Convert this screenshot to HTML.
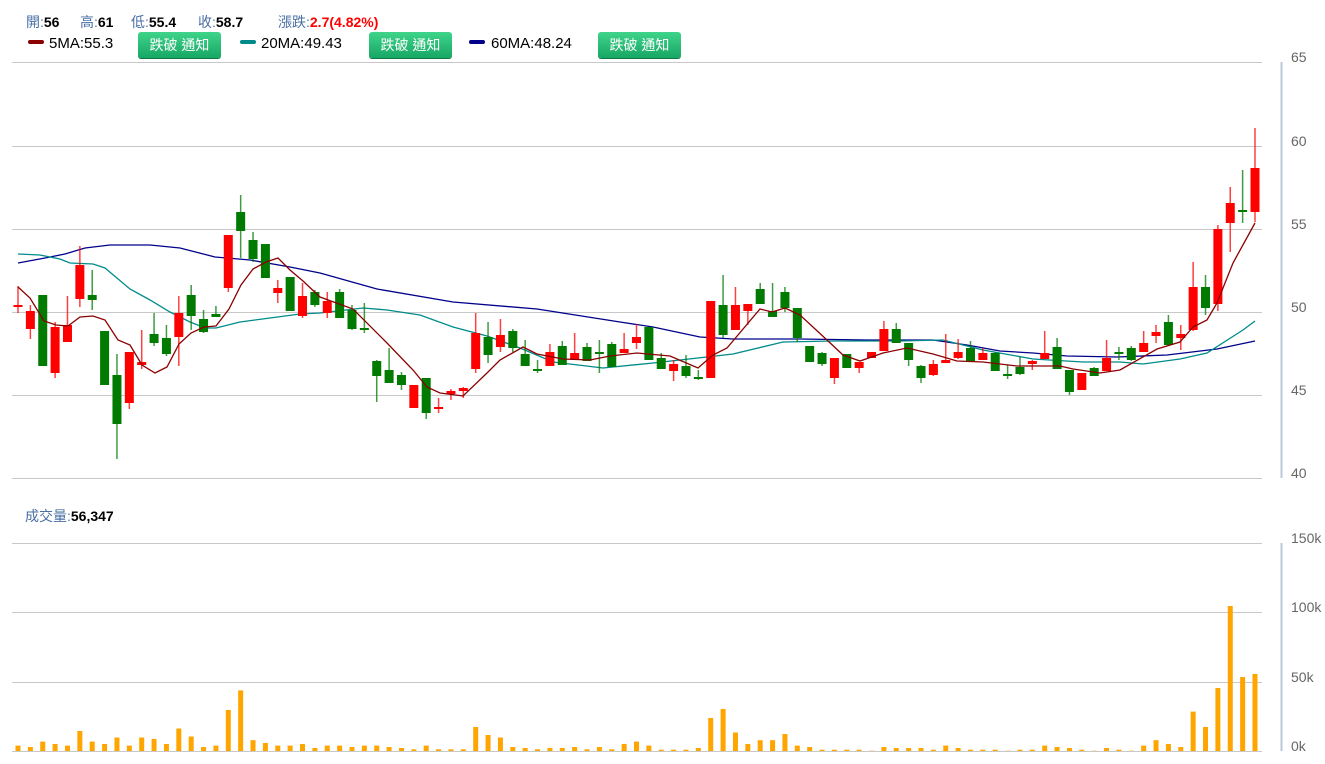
<!DOCTYPE html>
<html><head><meta charset="utf-8">
<style>
body{margin:0;background:#fff;width:1325px;height:764px;overflow:hidden;font-family:"Liberation Sans","Noto Sans CJK TC",sans-serif;}
.t{position:absolute;font-size:14px;color:#4a6fa5;white-space:nowrap}
.t b{color:#000}
.btn{position:absolute;top:32px;height:26px;width:83px;border-radius:3px;background:linear-gradient(#3fd48a,#17a765);color:#fff;font-size:14px;line-height:26px;text-align:center;box-shadow:0 1px 0 #0d7a46;}
.sw{position:absolute;top:40px;width:16px;height:4px;border-radius:2px}
.lg{position:absolute;top:35px;font-size:15px;color:#000}
</style></head><body>
<div class="t" style="left:26px;top:12px">開:<b>56</b></div>
<div class="t" style="left:80px;top:12px">高:<b>61</b></div>
<div class="t" style="left:131px;top:12px">低:<b>55.4</b></div>
<div class="t" style="left:198px;top:12px">收:<b>58.7</b></div>
<div class="t" style="left:278px;top:12px">漲跌:<b style="color:#f00">2.7(4.82%)</b></div>
<div class="sw" style="left:28px;background:#8b0000"></div><div class="lg" style="left:49px">5MA:55.3</div>
<div class="btn" style="left:138px">跌破 通知</div>
<div class="sw" style="left:240px;background:#008b8b"></div><div class="lg" style="left:261px">20MA:49.43</div>
<div class="btn" style="left:369px">跌破 通知</div>
<div class="sw" style="left:469px;background:#00008b"></div><div class="lg" style="left:491px">60MA:48.24</div>
<div class="btn" style="left:598px">跌破 通知</div>
<div class="t" style="left:25px;top:506px">成交量:<b>56,347</b></div>
<svg id="s" width="1325" height="764" style="position:absolute;left:0;top:0" xmlns="http://www.w3.org/2000/svg"></svg>
<script>
var C=[[305,307,286,313,'r'],[311,329,305,339,'r'],[295,366,295,366,'g'],[327,373,322,378,'r'],[325,342,296,342,'r'],[265,299,246,307,'r'],[295,300,270,310,'g'],[331,385,331,385,'g'],[375,424,354,459,'g'],[352,403,352,409,'r'],[362,365,330,369,'r'],[334,343,313,346,'g'],[338,354,325,356,'g'],[313,337,296,366,'r'],[295,316,285,330,'g'],[319,332,310,333,'g'],[314,317,306,317,'g'],[235,288,235,292,'r'],[212,231,195,258,'g'],[240,259,232,262,'g'],[244,278,244,278,'g'],[288,293,280,303,'r'],[277,311,277,311,'g'],[296,316,283,318,'r'],[292,305,290,307,'g'],[301,313,292,318,'r'],[292,318,289,318,'g'],[310,329,305,330,'g'],[328,330,303,333,'g'],[361,376,360,402,'g'],[370,383,348,383,'g'],[375,385,372,390,'g'],[385,408,385,408,'r'],[378,413,378,419,'g'],[407,409,398,413,'r'],[391,394,389,400,'r'],[388,391,387,398,'r'],[333,369,313,373,'r'],[337,355,322,363,'g'],[335,347,319,352,'r'],[331,348,329,352,'g'],[354,366,340,366,'g'],[369,371,360,373,'g'],[352,366,344,366,'r'],[346,365,341,365,'g'],[353,360,333,360,'r'],[347,361,343,361,'g'],[352,354,340,373,'g'],[344,367,342,367,'g'],[349,353,333,353,'r'],[337,343,324,349,'r'],[327,360,327,360,'g'],[358,369,353,369,'g'],[364,371,360,381,'r'],[366,376,355,378,'g'],[377,379,370,380,'g'],[301,378,301,378,'r'],[305,335,275,338,'g'],[305,330,287,330,'r'],[304,311,304,325,'r'],[289,304,283,304,'g'],[311,317,283,317,'g'],[292,308,287,312,'g'],[308,338,308,342,'g'],[346,362,346,362,'g'],[353,364,352,366,'g'],[358,378,358,384,'r'],[354,368,354,368,'g'],[362,368,362,373,'r'],[352,358,352,358,'r'],[329,351,321,351,'r'],[329,343,323,343,'g'],[343,360,343,366,'g'],[366,378,365,383,'g'],[364,375,360,376,'r'],[360,363,334,363,'r'],[352,358,339,359,'r'],[348,362,341,362,'g'],[353,360,348,360,'r'],[353,371,352,371,'g'],[374,376,365,379,'g'],[367,374,357,375,'g'],[361,364,360,370,'r'],[353,359,331,359,'r'],[347,369,338,369,'g'],[370,392,370,395,'g'],[373,390,373,390,'r'],[368,376,367,376,'g'],[358,371,340,371,'r'],[352,354,347,360,'g'],[348,360,346,361,'g'],[343,352,331,352,'r'],[332,336,325,343,'r'],[322,345,315,345,'g'],[334,338,325,350,'r'],[287,330,262,331,'r'],[287,308,275,315,'g'],[229,304,225,311,'r'],[203,223,187,252,'r'],[210,212,170,223,'g'],[168,212,128,222,'r']];
var V=[5.4,4,9.4,7,5.4,20,9.4,7,13.5,5.4,13.5,12,7,22.5,14.5,4,5.4,41,60.6,10.8,8,5.4,5.4,7,3,5.4,5.4,4,5.4,5.4,4,3,1.7,5.4,1.7,1.7,1.7,24,16,13.5,4,3,1.7,3,3,4,1.7,4,1.7,7,9.4,5.4,1.3,1.3,1.3,3,33,42,18.5,7,10.8,10.8,17,5.4,4,1.3,1.3,1.3,1.3,0.3,4,3,3,3,1.3,5.4,3,1.3,1.3,1.3,0.3,1.3,1.3,5.4,4,3,1.3,0.3,3,1.3,0.3,5.4,10.8,7,4,39.4,24,63,145,74,77];
var MA60=[[18,263],[45,258],[65,254],[85,248],[110,245],[150,245],[180,248],[215,257],[250,260],[290,267],[320,273],[377,289],[453,302],[537,309],[620,322],[653,327],[700,337],[733,339],[800,339],[867,340],[933,340],[967,345],[1000,351],[1033,353],[1067,356],[1117,357],[1167,355],[1217,349],[1255,341]];
var MA20=[[18,254],[40,255],[60,259],[70,263],[93,264],[105,268],[130,289],[150,300],[170,312],[190,322],[205,328],[216,328],[240,322],[270,318],[300,314],[320,313],[363,308],[387,310],[420,315],[453,327],[487,336],[520,348],[553,362],[603,368],[653,363],[698,358],[733,354],[783,342],[833,341],[900,341],[943,340],[983,350],[1033,359],[1083,362],[1120,362],[1143,364],[1180,359],[1207,353],[1243,330],[1255,321]];
var MA5=[[18,287],[30,298],[44,321],[56,325],[68,326],[80,317],[93,316],[105,320],[118,340],[130,345],[142,365],[155,373],[167,367],[179,344],[191,333],[204,327],[216,326],[229,309],[241,285],[253,269],[266,262],[278,258],[290,270],[303,281],[320,297],[353,309],[387,343],[413,370],[427,387],[440,393],[463,396],[487,373],[500,360],[523,347],[537,354],[563,359],[590,360],[610,356],[637,353],[670,356],[698,368],[713,355],[727,348],[760,309],[772,312],[785,308],[800,315],[827,340],[843,355],[860,361],[883,353],[907,348],[933,354],[957,361],[983,362],[1017,366],[1060,366],[1073,369],[1100,373],[1120,370],[1157,349],[1180,342],[1193,327],[1207,320],[1217,303],[1233,263],[1255,223]];
var h='';
[62,146,229,312,395,478,543,612,682,751].forEach(function(y){h+='<line x1="12" x2="1262" y1="'+(y+.5)+'" y2="'+(y+.5)+'" stroke="#c8c8c8" stroke-width="1"/>';});
h+='<line x1="1281.5" x2="1281.5" y1="62" y2="478" stroke="#b8c8dc" stroke-width="2"/>';
h+='<line x1="1281.5" x2="1281.5" y1="543" y2="751" stroke="#b8c8dc" stroke-width="2"/>';
[['65',62],['60',146],['55',229],['50',312],['45',395],['40',478]].forEach(function(a){h+='<text x="1291" y="'+(a[1])+'" font-size="14" fill="#666" font-family="Liberation Sans">'+a[0]+'</text>';});
[['150k',543],['100k',612],['50k',682],['0k',751]].forEach(function(a){h+='<text x="1291" y="'+(a[1])+'" font-size="14" fill="#666" font-family="Liberation Sans">'+a[0]+'</text>';});
V.forEach(function(v,i){var x=18+12.37*i;h+='<rect x="'+(x-2.5)+'" y="'+(751-v)+'" width="5" height="'+v+'" fill="#ffa500"/>';});
function pl(a,c){return '<polyline fill="none" stroke="'+c+'" stroke-width="1.3" points="'+a.map(function(p){return p.join(',')}).join(' ')+'"/>';}
h+=pl(MA60,'#00008b')+pl(MA20,'#008b8b');
C.forEach(function(c,i){var x=18+12.37*i;var col=c[4]=='r'?'#ff0000':'#007a00';var t=c[0],b=c[1];if(b-t<2){t-=1;b+=1;}
h+='<line x1="'+x+'" x2="'+x+'" y1="'+c[2]+'" y2="'+c[3]+'" stroke="'+col+'" stroke-opacity="0.75" stroke-width="1.5"/>';
h+='<rect x="'+(x-4.5)+'" y="'+t+'" width="9" height="'+(b-t)+'" fill="'+col+'"/>';});
h+=pl(MA5,'#8b0000');
document.getElementById('s').innerHTML=h;
</script>
</body></html>
